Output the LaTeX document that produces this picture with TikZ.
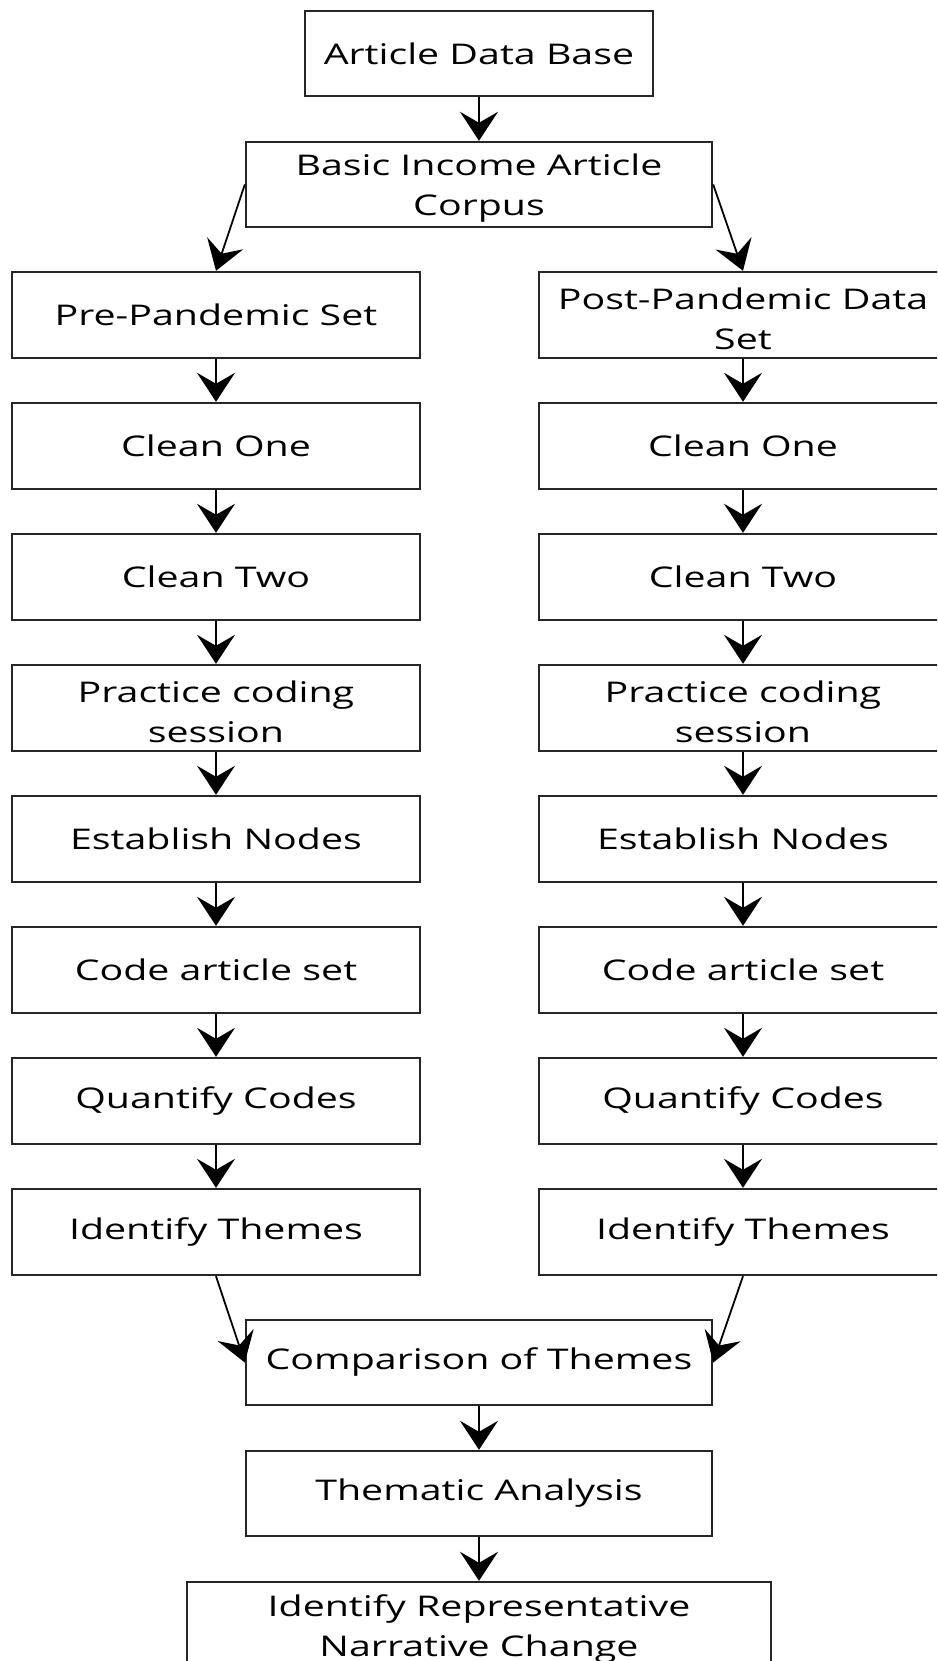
\documentclass[tikz,border=0pt]{standalone}
\usepackage{fontspec}
\setmainfont{Open Sans}[FakeStretch=1.38]
\usetikzlibrary{arrows.meta}
\newcommand{\dn}{\rule{0pt}{29pt}}
\tikzset{
  box/.style={draw=black!85, line width=2.4pt, rectangle, inner sep=0pt, align=center,
    font=\fontsize{28.5}{40}\selectfont},
  flow/.style={line width=1.8pt, -{Stealth[length=29pt, width=38pt, inset=11pt]}, shorten >=0pt}
}
\begin{document}
\begin{tikzpicture}[x=1pt, y=-1pt]
\useasboundingbox (0,0) rectangle (937,1661);
\clip (0,0) rectangle (937,1661);
% central boxes
\node[box, minimum width=348pt, minimum height=85pt] (adb) at (479,53.5) {Article Data Base};
\node[box, minimum width=466pt, minimum height=85pt] (bia) at (479,184.5) {\dn Basic Income Article\\Corpus};
% columns
\foreach \i/\lt/\rt [count=\k from 0] in {
  pre/{Pre-Pandemic Set}/{\dn Post-Pandemic Data\\Set},
  c1/{Clean One}/{Clean One},
  c2/{Clean Two}/{Clean Two},
  pc/{\dn Practice coding\\session}/{\dn Practice coding\\session},
  en/{Establish Nodes}/{Establish Nodes},
  ca/{Code article set}/{Code article set},
  qc/{Quantify Codes}/{Quantify Codes},
  it/{Identify Themes}/{Identify Themes}} {
  \node[box, minimum width=408pt, minimum height=86pt] (L\i) at (216,315+131*\k) {\lt};
  \node[box, minimum width=408pt, minimum height=86pt] (R\i) at (743,315+131*\k) {\rt};
}
\node[box, minimum width=466pt, minimum height=85pt] (cmp) at (479,1362.5) {Comparison of Themes};
\node[box, minimum width=466pt, minimum height=85pt] (tha) at (479,1493.5) {Thematic Analysis};
\node[box, minimum width=584pt, minimum height=86pt] (irn) at (479,1625) {\dn Identify Representative\\Narrative Change};
% connectors
\draw[flow] (adb.south) -- (bia.north);
\draw[flow] (bia.west) -- (Lpre.north);
\draw[flow] (bia.east) -- (Rpre.north);
\foreach \a/\b in {pre/c1, c1/c2, c2/pc, pc/en, en/ca, ca/qc, qc/it} {
  \draw[flow] (L\a.south) -- (L\b.north);
  \draw[flow] (R\a.south) -- (R\b.north);
}
\draw[flow] (Lit.south) -- (cmp.west);
\draw[flow] (Rit.south) -- (cmp.east);
\draw[flow] (cmp.south) -- (tha.north);
\draw[flow] (tha.south) -- (irn.north);
\end{tikzpicture}
\end{document}
